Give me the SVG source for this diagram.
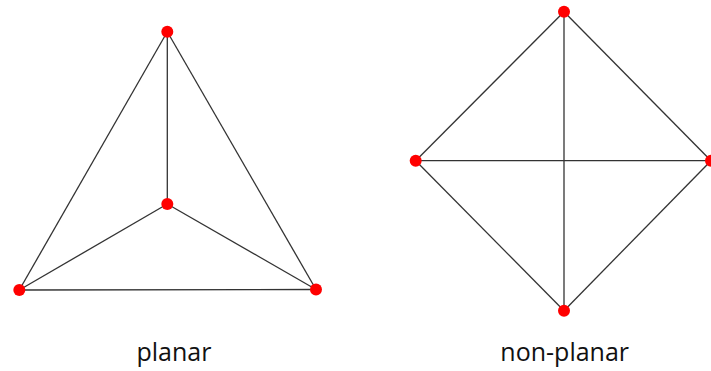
<svg xmlns="http://www.w3.org/2000/svg" width="711" height="371" viewBox="0 0 711 371">
<style>
.e{stroke:#333;stroke-width:1.3;fill:none}
.n{fill:#f00}
.t{font-family:"Open Sans","Liberation Sans",sans-serif;font-size:25px;fill:#111;text-anchor:middle}
</style>
<rect width="711" height="371" fill="#fff"/>
<g id="connectors">
<line class="e" x1="167.3" y1="31.7" x2="19.3" y2="290"/>
<line class="e" x1="167.3" y1="31.7" x2="316" y2="289.5"/>
<line class="e" x1="167.3" y1="31.7" x2="167.3" y2="204"/>
<line class="e" x1="167.3" y1="204" x2="19.3" y2="290"/>
<line class="e" x1="167.3" y1="204" x2="316" y2="289.5"/>
<line class="e" x1="19.3" y1="290" x2="316" y2="289.5"/>
<line class="e" x1="564" y1="11.7" x2="415.7" y2="160.7"/>
<line class="e" x1="564" y1="11.7" x2="711" y2="160.7"/>
<line class="e" x1="564" y1="11.7" x2="564" y2="310.7"/>
<line class="e" x1="415.7" y1="160.7" x2="711" y2="160.7"/>
<line class="e" x1="415.7" y1="160.7" x2="564" y2="310.7"/>
<line class="e" x1="711" y1="160.7" x2="564" y2="310.7"/>
</g>
<g id="p-top"><circle class="n" cx="167.3" cy="31.7" r="6"/></g>
<g id="p-center"><circle class="n" cx="167.3" cy="204" r="6"/></g>
<g id="p-left"><circle class="n" cx="19.3" cy="290" r="6"/></g>
<g id="p-right"><circle class="n" cx="316" cy="289.5" r="6"/></g>
<g id="np-top"><circle class="n" cx="564" cy="11.7" r="6"/></g>
<g id="np-left"><circle class="n" cx="415.7" cy="160.7" r="6"/></g>
<g id="np-right"><circle class="n" cx="711" cy="160.7" r="6"/></g>
<g id="np-bottom"><circle class="n" cx="564" cy="310.7" r="6"/></g>
<g id="labels">
<text class="t" x="174" y="361">planar</text>
<text class="t" x="564.7" y="361">non-planar</text>
</g>
</svg>
